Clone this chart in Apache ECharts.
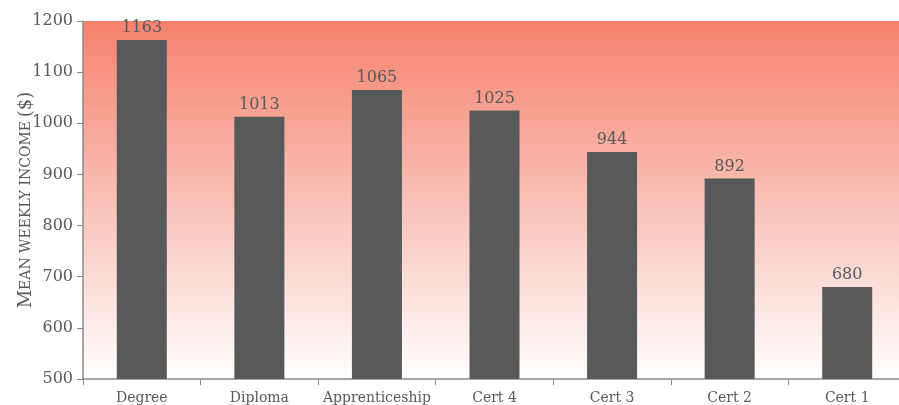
<!DOCTYPE html>
<html><head><meta charset="utf-8">
<script src="https://cdn.jsdelivr.net/npm/echarts@6/dist/echarts.min.js"></script>
<style>html,body{margin:0;padding:0;background:#fff}#c{width:899px;height:405px}</style>
</head><body><div id="c"></div>
<script>
const categories = ['Degree','Diploma','Apprenticeship','Cert 4','Cert 3','Cert 2','Cert 1'];
const incomes = [1163, 1013, 1065, 1025, 944, 892, 680];
const yTicks = [500, 600, 700, 800, 900, 1000, 1100, 1200];

const FONT = 'DejaVu Serif';
const TXT = '#58595b';
const chart = echarts.init(document.getElementById('c'), null, {renderer:'canvas'});
chart.setOption({
  animation: false,
  grid: {
    left: 83, top: 21, right: -7, bottom: 26, containLabel: false, outerBoundsMode: 'none',
    show: true, borderWidth: 0,
    backgroundColor: new echarts.graphic.LinearGradient(0,0,0,1,[
      {offset:0, color:'#f4826d'},
      {offset:1, color:'#ffffff'}
    ])
  },
  xAxis: {
    type: 'category', data: categories,
    axisLine: {lineStyle: {color:'#8a8a8a', width:1.5}},
    axisTick: {show:true, length:6, interval:0, lineStyle:{color:'#8a8a8a'}},
    axisLabel: {color: TXT, fontFamily: FONT, fontSize: 14, margin: 12, interval: 0, hideOverlap: false}
  },
  yAxis: {
    type: 'value', min: yTicks[0], max: yTicks[yTicks.length-1], interval: 100,
    splitLine: {show:false},
    axisLine: {show:true, lineStyle: {color:'#8a8a8a', width:1.5}},
    axisTick: {show:true, length:6, lineStyle:{color:'#8a8a8a'}},
    axisLabel: {color: TXT, fontFamily: FONT, fontSize: 16, margin: 10, formatter: v => String(v)},
    name: '{a|M}{b|EAN WEEKLY INCOME} {a|($)}',
    nameLocation: 'middle', nameGap: 48, nameRotate: 90, nameMoveOverlap: false,
    nameTextStyle: {
      color: TXT, fontFamily: FONT,
      rich: {
        a: {fontFamily: FONT, fontSize: 18, color: TXT},
        b: {fontFamily: FONT, fontSize: 14, color: TXT}
      }
    }
  },
  series: [{
    type: 'bar', data: incomes, barWidth: 50,
    itemStyle: {color: '#58595b'},
    label: {show:true, position:'top', distance: 4, color: TXT, fontFamily: FONT, fontSize: 16}
  }]
});
</script></body></html>
